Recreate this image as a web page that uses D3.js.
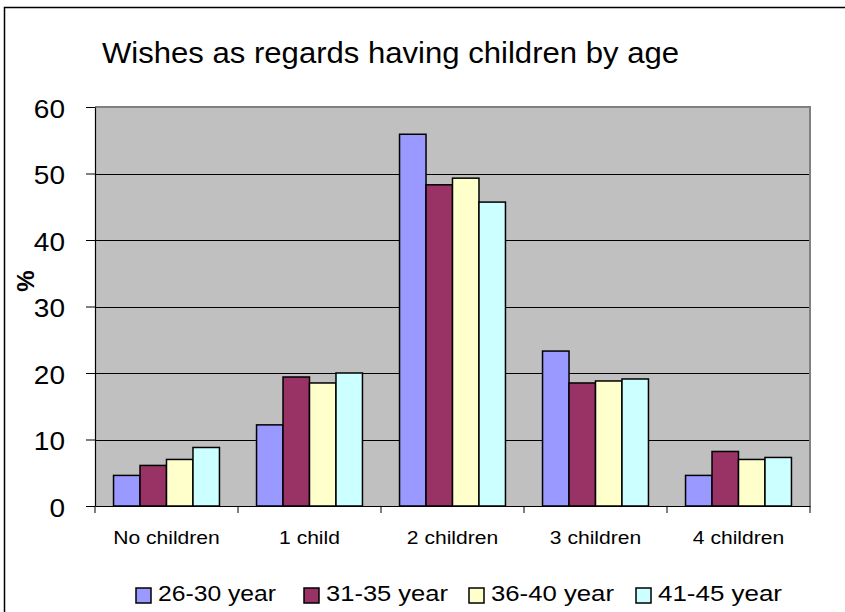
<!DOCTYPE html>
<html>
<head>
<meta charset="utf-8">
<script src="https://cdn.jsdelivr.net/npm/d3@7"></script>
<style>
  body { margin: 0; background: #fff; }
  svg { display: block; font-family: Arial, "Liberation Sans", sans-serif; }
</style>
</head>
<body>
<svg id="chart" width="845" height="612"></svg>
<script>
// data
const categories = ['No children', '1 child', '2 children', '3 children', '4 children'];
const seriesNames = ['26-30 year', '31-35 year', '36-40 year', '41-45 year'];
const age2630 = [4.6, 12.2, 55.9, 23.3, 4.6];
const age3135 = [6.1, 19.4, 48.3, 18.5, 8.2];
const age3640 = [7.0, 18.5, 49.3, 18.8, 7.0];
const age4145 = [8.8, 20.0, 45.7, 19.1, 7.3];
const yTicks = [0, 10, 20, 30, 40, 50, 60];
const colors = ['#9999FF', '#993366', '#FFFFCC', '#CCFFFF'];

const seriesValues = [age2630, age3135, age3640, age4145];

const svg = d3.select('#chart');
const plot = { left: 95, right: 810, top: 107, bottom: 506 };

// the reference text is drawn a little wider than plain Arial
function widen(sel, k) {
  sel.each(function () {
    const w = this.getComputedTextLength();
    d3.select(this).attr('textLength', w * k).attr('lengthAdjust', 'spacingAndGlyphs');
  });
}

// chart frame (left + top edges visible)
svg.append('path')
  .attr('d', 'M4.5,612 V7.5 H845')
  .attr('fill', 'none').attr('stroke', '#000').attr('stroke-width', 1.5);

// title
svg.append('text')
  .attr('x', 102).attr('y', 63)
  .attr('font-size', 29)
  .attr('textLength', 577).attr('lengthAdjust', 'spacingAndGlyphs')
  .text('Wishes as regards having children by age');

const x0 = d3.scaleBand().domain(categories).range([plot.left, plot.right]).padding(0);
const x1 = d3.scaleBand().domain(seriesNames).range([0, x0.bandwidth()])
  .paddingInner(0).paddingOuter(0.7);
const y = d3.scaleLinear().domain([0, 60]).range([plot.bottom, plot.top]);

// plot background
svg.append('rect')
  .attr('x', plot.left).attr('y', plot.top)
  .attr('width', plot.right - plot.left).attr('height', plot.bottom - plot.top)
  .attr('fill', '#C0C0C0');

// gridlines
svg.append('g').selectAll('line')
  .data(yTicks.filter(d => d > 0 && d < 60))
  .join('line')
  .attr('x1', plot.left).attr('x2', plot.right)
  .attr('y1', d => Math.round(y(d)) + 0.5).attr('y2', d => Math.round(y(d)) + 0.5)
  .attr('stroke', '#000').attr('stroke-width', 1);

// grey border top/right
svg.append('path')
  .attr('d', `M${plot.left},${plot.top} H${plot.right} V${plot.bottom}`)
  .attr('fill', 'none').attr('stroke', '#808080').attr('stroke-width', 2);

// bars
const rows = categories.map((c, i) => ({ cat: c, vals: seriesNames.map((s, j) => ({ s, j, v: seriesValues[j][i] })) }));
const groups = svg.append('g').selectAll('g')
  .data(rows)
  .join('g')
  .attr('transform', d => `translate(${x0(d.cat)},0)`);

groups.selectAll('rect')
  .data(d => d.vals)
  .join('rect')
  .attr('x', d => x1(d.s))
  .attr('y', d => y(d.v))
  .attr('width', x1.bandwidth())
  .attr('height', d => y(0) - y(d.v))
  .attr('fill', d => colors[d.j])
  .attr('stroke', '#000')
  .attr('stroke-width', 1.5);

// y axis
const yAxis = svg.append('g')
  .attr('transform', `translate(${plot.left},0)`)
  .call(d3.axisLeft(y).tickValues(yTicks).tickSize(9).tickPadding(21).tickSizeOuter(0));
yAxis.select('.domain').attr('stroke', '#000').attr('stroke-width', 1.2);
yAxis.selectAll('.tick line').attr('stroke', '#000');
yAxis.selectAll('.tick text')
  .attr('font-size', 25)
  .attr('font-family', 'Arial, "Liberation Sans", sans-serif')
  .attr('fill', '#000')
  .attr('dy', '0.4em')
  .call(widen, 1.12);

// x axis
const xAxis = svg.append('g')
  .attr('transform', `translate(0,${plot.bottom})`)
  .call(d3.axisBottom(x0).tickSize(0).tickPadding(25));
xAxis.select('.domain').attr('stroke', '#000').attr('stroke-width', 1.2);
xAxis.selectAll('.tick text')
  .attr('font-size', 18)
  .attr('font-family', 'Arial, "Liberation Sans", sans-serif')
  .attr('fill', '#000')
  .call(widen, 1.17);
// category boundary ticks
svg.append('g').selectAll('line')
  .data(categories.concat(['end']))
  .join('line')
  .attr('x1', (d, i) => plot.left + i * x0.step())
  .attr('x2', (d, i) => plot.left + i * x0.step())
  .attr('y1', plot.bottom).attr('y2', plot.bottom + 7)
  .attr('stroke', '#000');

// y title
svg.append('text')
  .attr('transform', 'translate(34,281) rotate(-90)')
  .attr('text-anchor', 'middle')
  .attr('font-size', 24).attr('font-weight', 'bold')
  .text('%');

// legend
const legendX = [136, 304, 469, 636];
const legendW = [118, 122, 123, 124];
const legend = svg.append('g').selectAll('g')
  .data(seriesNames)
  .join('g')
  .attr('transform', (d, i) => `translate(${legendX[i]},588)`);
legend.append('rect')
  .attr('width', 15).attr('height', 15)
  .attr('fill', (d, i) => colors[i])
  .attr('stroke', '#000').attr('stroke-width', 1.5);
legend.append('text')
  .attr('x', 22).attr('y', 13)
  .attr('font-size', 22)
  .attr('textLength', (d, i) => legendW[i]).attr('lengthAdjust', 'spacingAndGlyphs')
  .text(d => d);
</script>
</body>
</html>
